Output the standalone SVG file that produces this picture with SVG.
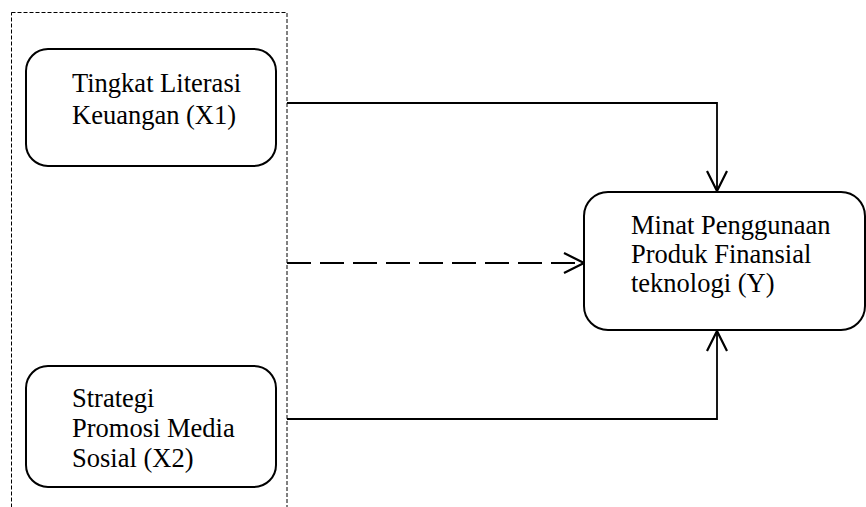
<svg xmlns="http://www.w3.org/2000/svg" width="866" height="507" viewBox="0 0 866 507">
<style>
.node{fill:#fff;stroke:#000;stroke-width:2}
.t{font-family:"Liberation Serif","Times New Roman",serif;font-size:26.5px;fill:#000}
.c{fill:none;stroke:#000;stroke-width:1.8}
.border{fill:none;stroke:#000;stroke-width:1;stroke-dasharray:4 2}
</style>
<defs>
<marker id="arr" markerWidth="24" markerHeight="24" viewBox="-22 -12 24 24" refX="0" refY="0" orient="auto" markerUnits="userSpaceOnUse">
<path d="M-20,-10 L0,0 L-20,10" fill="none" stroke="#000" stroke-width="2.2"/>
</marker>
</defs>
<rect class="border" x="11.5" y="12.5" width="275.5" height="500"/>
<g id="connectors">
<path class="c" d="M287,103 H717 V191" marker-end="url(#arr)"/>
<path class="c" d="M287,419 H717 V331" marker-end="url(#arr)"/>
<path class="c" d="M287,263 H584" stroke-width="2.8" stroke-dasharray="24 9" marker-end="url(#arr)"/>
</g>
<g id="x1">
<rect class="node" x="26" y="49" width="250" height="117" rx="22"/>
<text class="t" x="72" y="92">Tingkat Literasi</text>
<text class="t" x="72" y="124">Keuangan (X1)</text>
</g>
<g id="x2">
<rect class="node" x="26" y="366" width="250" height="121" rx="22"/>
<text class="t" x="72" y="407">Strategi</text>
<text class="t" x="72" y="437">Promosi Media</text>
<text class="t" x="72" y="467">Sosial (X2)</text>
</g>
<g id="y">
<rect class="node" x="584" y="192" width="281" height="138" rx="24"/>
<text class="t" x="631" y="234">Minat Penggunaan</text>
<text class="t" x="631" y="263">Produk Finansial</text>
<text class="t" x="631" y="292">teknologi (Y)</text>
</g>
</svg>
